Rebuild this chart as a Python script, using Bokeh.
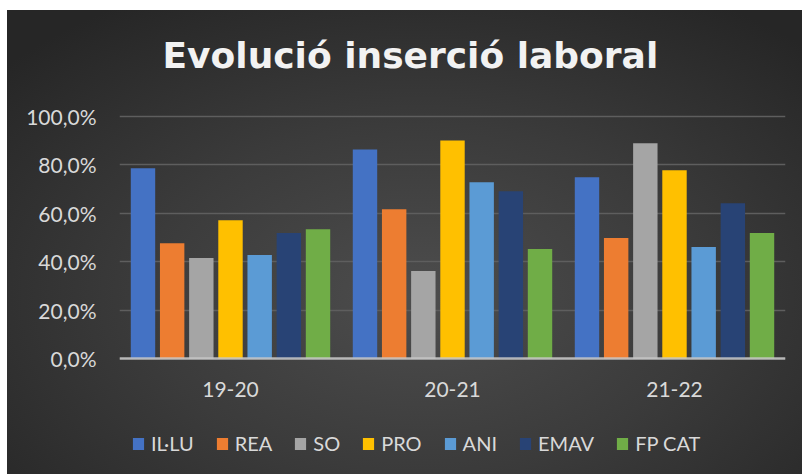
from bokeh.plotting import figure
from bokeh.models import ColumnDataSource, FactorRange, Range1d, FixedTicker, Legend, LegendItem
from bokeh.transform import dodge
from bokeh.embed import file_html
from bokeh.resources import INLINE

categories = ["19-20", "20-21", "21-22"]
series_names = ["IL·LU", "REA", "SO", "PRO", "ANI", "EMAV", "FP CAT"]
il_lu = [78.6, 86.4, 74.9]
rea = [47.7, 61.7, 49.8]
so = [41.6, 36.2, 88.9]
pro = [57.2, 90.1, 77.8]
ani = [42.8, 72.8, 46.1]
emav = [51.9, 69.1, 64.2]
fp_cat = [53.5, 45.3, 51.9]
y_ticks = [0, 20, 40, 60, 80, 100]
y_tick_labels = ["0,0%", "20,0%", "40,0%", "60,0%", "80,0%", "100,0%"]
colors = ["#4472C4", "#ED7D31", "#A5A5A5", "#FFC000", "#5B9BD5", "#284375", "#70AD47"]

keys = ["s0", "s1", "s2", "s3", "s4", "s5", "s6"]
src = ColumnDataSource(dict(cat=categories, s0=il_lu, s1=rea, s2=so, s3=pro,
                            s4=ani, s5=emav, s6=fp_cat))

FONT = "Lato"
TXT = "#d9d9d9"

# page layout (pixels)
FIG_TOP, FIG_LEFT = 10, 7
FIG_W, FIG_H = 795, 464
FRAME_TOP, FRAME_BOTTOM = 97, 466        # page y of the plot frame
Y100_PX, Y0_PX = 115, 358                # page y of the 100 % and 0 % lines
px_per_unit = (Y0_PX - Y100_PX) / 100.0
y_end = 100 + (Y100_PX - FRAME_TOP) / px_per_unit
y_start = -(FRAME_BOTTOM - Y0_PX) / px_per_unit

p = figure(width=FIG_W, height=FIG_H, x_range=FactorRange(*categories, range_padding=0),
           y_range=Range1d(y_start, y_end), output_backend="svg", toolbar_location=None,
           title="Evolució inserció laboral",
           min_border_left=119 - FIG_LEFT, min_border_right=FIG_LEFT + FIG_W - 785,
           min_border_top=FRAME_TOP - FIG_TOP, min_border_bottom=FIG_TOP + FIG_H - FRAME_BOTTOM)
p.x_range.factor_padding = 0
p.background_fill_alpha = 0
p.border_fill_alpha = 0
p.outline_line_color = None
p.styles = {"margin-left": f"{FIG_LEFT}px", "margin-top": f"{FIG_TOP}px",
            "background": "radial-gradient(ellipse 70% 75% at 52% 62%, #4d4d4d 0%, #3b3b3b 50%, #262626 100%)"}

p.title.text_font = "DejaVu Sans"
p.title.text_font_style = "bold"
p.title.text_font_size = "36px"
p.title.text_color = "#f2f2f2"
p.title.align = "left"
p.title.standoff = 45
p.title.offset = 43

slot = 0.1314
bw = 0.110
items = []
for i, k in enumerate(keys):
    r = p.vbar(x=dodge("cat", (i - 3) * slot, range=p.x_range), top=k, width=bw,
               source=src, fill_color=colors[i], line_color=None)
    items.append(LegendItem(label=series_names[i], renderers=[r]))

p.yaxis.ticker = FixedTicker(ticks=y_ticks)
p.yaxis.major_label_overrides = {t: l for t, l in zip(y_ticks, y_tick_labels)}
p.yaxis.axis_line_color = None
p.yaxis.major_tick_line_color = None
p.yaxis.minor_tick_line_color = None
p.yaxis.major_label_standoff = 17
p.yaxis.major_label_text_font = FONT
p.yaxis.major_label_text_font_size = "21px"
p.yaxis.major_label_text_color = TXT

p.xaxis.fixed_location = 0
p.xaxis.axis_line_color = "#c8c8c8"
p.xaxis.axis_line_width = 2.5
p.xaxis.axis_line_alpha = 0.85
p.xaxis.major_tick_line_color = None
p.xaxis.minor_tick_line_color = None
p.xaxis.major_label_standoff = 17
p.xaxis.major_label_text_font = FONT
p.xaxis.major_label_text_font_size = "21px"
p.xaxis.major_label_text_color = TXT

p.xgrid.grid_line_color = None
p.ygrid.grid_line_color = "#5e5e5e"
p.ygrid.grid_line_width = 1.6
p.ygrid.ticker = FixedTicker(ticks=y_ticks)

legend = Legend(items=items, orientation="horizontal", location=(131 - 119, FRAME_BOTTOM - 455),
                glyph_width=14, glyph_height=15, label_standoff=6, spacing=21,
                padding=0, margin=0, background_fill_alpha=0, border_line_color=None,
                label_text_font=FONT, label_text_font_size="20px", label_text_color=TXT)
p.add_layout(legend, "center")

open("out.html", "w").write(file_html(p, INLINE))
